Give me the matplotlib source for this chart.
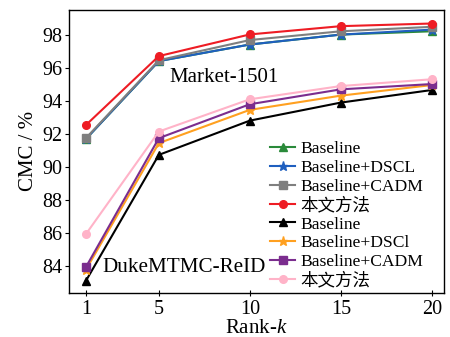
import matplotlib
matplotlib.use("Agg")
import matplotlib.pyplot as plt

plt.rcParams['font.family'] = ['Liberation Serif', 'Noto Sans CJK SC']
plt.rcParams['mathtext.fontset'] = 'custom'
plt.rcParams['mathtext.it'] = 'Liberation Serif:italic'
plt.rcParams['mathtext.rm'] = 'Liberation Serif'

ranks = [1, 5, 10, 15, 20]

# Market-1501
m_baseline = [91.7, 96.4, 97.4, 98.0, 98.2]
m_dscl = [91.7, 96.4, 97.4, 98.0, 98.3]
m_cadm = [91.75, 96.45, 97.67, 98.2, 98.47]
m_ours = [92.54, 96.7, 98.01, 98.51, 98.67]

# DukeMTMC-ReID
d_baseline = [83.13, 90.73, 92.8, 93.89, 94.65]
d_dscl = [83.8, 91.44, 93.45, 94.31, 94.95]
d_cadm = [83.96, 91.74, 93.79, 94.69, 95.01]
d_ours = [85.95, 92.14, 94.09, 94.89, 95.3]

labels = ['Baseline', 'Baseline+DSCL', 'Baseline+CADM', '本文方法',
          'Baseline', 'Baseline+DSCl', 'Baseline+CADM', '本文方法']
colors = ['#2a8a3a', '#1f5fbf', '#7f7f7f', '#ee1c24',
          '#000000', '#ffa020', '#7b2d8e', '#ffb3c8']
markers = ['^', '*', 's', 'o', '^', '*', 's', 'o']
series = [m_baseline, m_dscl, m_cadm, m_ours, d_baseline, d_dscl, d_cadm, d_ours]

fig = plt.figure(figsize=(4.5, 3.37), dpi=100)
ax = fig.add_axes([0.154, 0.1315, 0.833, 0.8385])

for vals, c, mk, lb in zip(series, colors, markers, labels):
    ax.plot(ranks, vals, color=c, marker=mk, markersize=6.5 if mk == '*' else 5.5,
            linewidth=1.5, label=lb)

ax.set_xlim(0.08, 20.68)
ax.set_ylim(82.4, 99.48)
ax.set_xticks(ranks)
ax.set_yticks([84, 86, 88, 90, 92, 94, 96, 98])
ax.tick_params(axis='y', direction='out', length=3, labelsize=14.5, width=0.8, pad=2)
ax.tick_params(axis='x', direction='inout', length=5, labelsize=14.5, width=0.8, pad=3)
for s in ax.spines.values():
    s.set_linewidth(1.0)

ax.set_ylabel('CMC / %', fontsize=15, labelpad=3)
ax.set_xlabel('Rank-$k$', fontsize=15, labelpad=0)

ax.text(8.6, 95.38, 'Market-1501', fontsize=15, ha='center', va='center')
ax.text(1.9, 83.9, 'DukeMTMC-ReID', fontsize=15.2, ha='left', va='center')

ax.legend(loc='lower right', bbox_to_anchor=(0.976, -0.03), frameon=False,
          fontsize=12.6, handlelength=1.4, handletextpad=0.3,
          labelspacing=0.135, borderaxespad=0.3)

fig.savefig('out.png', dpi=100)
